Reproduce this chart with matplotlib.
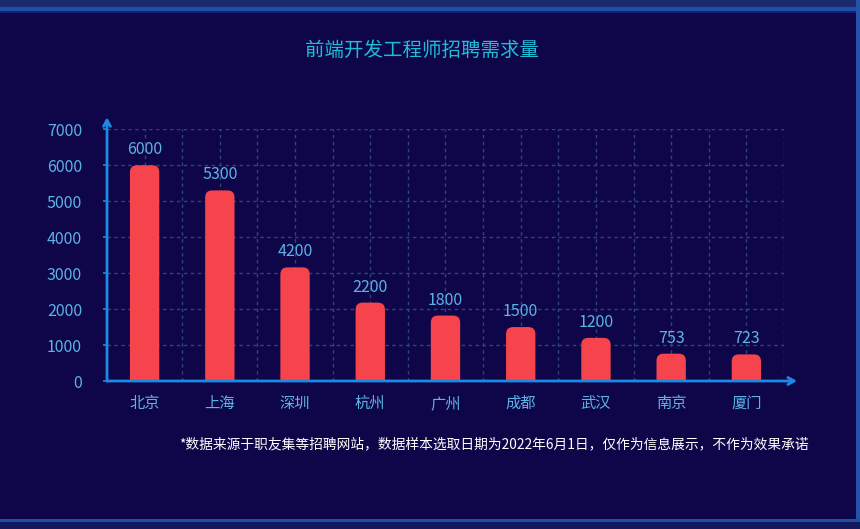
import numpy as np
import matplotlib
matplotlib.use("Agg")
import matplotlib.pyplot as plt
from matplotlib.patches import FancyBboxPatch, Rectangle

plt.rcParams["font.family"] = ["Noto Sans CJK SC", "DejaVu Sans"]

cities = ["北京", "上海", "深圳", "杭州", "广州", "成都", "武汉", "南京", "厦门"]
bar_values = [6000, 5300, 3160, 2180, 1820, 1500, 1200, 760, 740]
label_texts = ["6000", "5300", "4200", "2200", "1800", "1500", "1200", "753", "723"]
y_ticks = [0, 1000, 2000, 3000, 4000, 5000, 6000, 7000]

title = "前端开发工程师招聘需求量"
footnote = "*数据来源于职友集等招聘网站，数据样本选取日期为2022年6月1日，仅作为信息展示，不作为效果承诺"

BG = "#0f0649"
BAR = "#f5444b"
AXIS = "#1e88e5"
TEXT_BLUE = "#5cb3e6"
GRID = "#2d4674"

W, H = 860, 529
fig = plt.figure(figsize=(W / 100, H / 100), dpi=100, facecolor=BG)

# frame decoration
def band(x0, y0, w, h, color):
    fig.add_artist(Rectangle((x0 / W, 1 - (y0 + h) / H), w / W, h / H,
                             transform=fig.transFigure, color=color, lw=0, zorder=0))

band(0, 0, W, 8, "#1b2a6c")
band(0, 7, W, 4, "#1f4ea6")
band(0, 11, W, 2, "#15207a")
band(856, 0, 4, H, "#2452ab")
band(0, 519, W, 3, "#1f4ea6")
band(0, 522, W, 7, "#14185c")

ax_l, ax_r, ax_t, ax_b = 107, 784, 129.3, 381
ax = fig.add_axes([ax_l / W, 1 - ax_b / H, (ax_r - ax_l) / W, (ax_b - ax_t) / H])
ax.set_facecolor(BG)
n = len(cities)
ax.set_xlim(0, n)
ax.set_ylim(0, 7000)

centers = np.arange(n) + 0.5
px_x = (ax_r - ax_l) / n
px_y = (ax_b - ax_t) / 7000
bar_w = 0.39
r = 7 / px_x
aspect = px_x / px_y
for xc, v, t in zip(centers, bar_values, label_texts):
    ry = r * aspect
    p = FancyBboxPatch((xc - bar_w / 2, -ry), bar_w, v + ry,
                       boxstyle=f"round,pad=0,rounding_size={r}",
                       mutation_aspect=aspect, fc=BAR, ec="none", zorder=3)
    ax.add_patch(p)
    ax.annotate(t, (xc, v), xytext=(0, 5), textcoords="offset points",
                ha="center", va="bottom", color=TEXT_BLUE, fontsize=11.5)

ax.set_xticks(centers, cities)
ax.set_xticks(np.arange(n + 1), minor=True)
ax.set_yticks(y_ticks)
ax.tick_params(axis="x", which="both", length=0, pad=10, labelsize=11, labelcolor=TEXT_BLUE)
ax.tick_params(axis="y", length=3, width=1.2, color=AXIS, pad=15, labelsize=11.5, labelcolor=TEXT_BLUE)
ax.grid(True, which="both", axis="x", color=GRID, ls=(0, (2.5, 2.5)), lw=1, zorder=1)
ax.grid(True, which="major", axis="y", color=GRID, ls=(0, (2.5, 2.5)), lw=1, zorder=1)
for s in ax.spines.values():
    s.set_visible(False)

arrow = dict(arrowstyle="->,head_length=0.45,head_width=0.25", color=AXIS, lw=2,
             shrinkA=0, shrinkB=0)
ax.annotate("", xy=(0, 1 + 12 / (ax_b - ax_t)), xytext=(0, 0), xycoords="axes fraction",
            arrowprops=arrow, annotation_clip=False, zorder=5)
ax.annotate("", xy=(1 + 13 / (ax_r - ax_l), 0), xytext=(0, 0), xycoords="axes fraction",
            arrowprops=arrow, annotation_clip=False, zorder=5)

fig.text(422 / W, 1 - 50 / H, title, ha="center", va="center", color="#1fbcd8", fontsize=14)
fig.text(809 / W, 1 - 444 / H, footnote, ha="right", va="center", color="white", fontsize=9.9)

fig.savefig("out.png", dpi=100, facecolor=BG)
